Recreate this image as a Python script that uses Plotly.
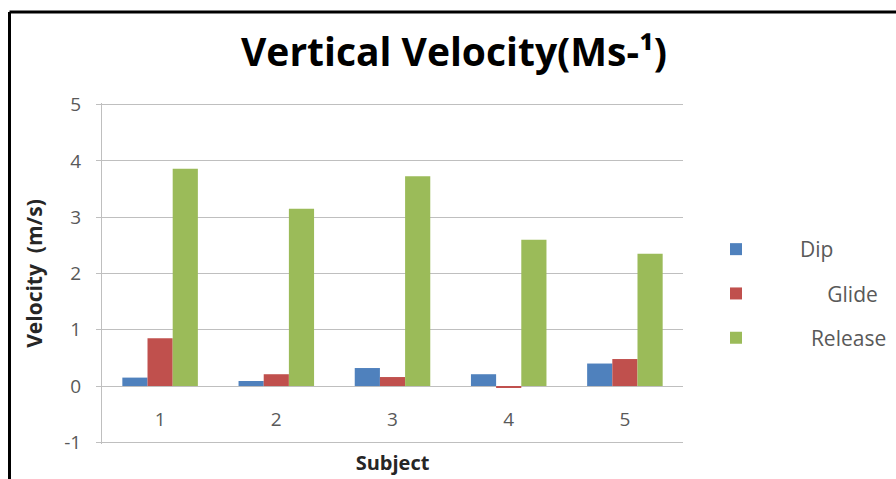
import plotly.graph_objects as go

subjects = ["1", "2", "3", "4", "5"]
dip = [0.15, 0.09, 0.32, 0.21, 0.40]
glide = [0.85, 0.21, 0.16, -0.02, 0.48]
release = [3.86, 3.15, 3.73, 2.60, 2.35]
y_ticks = [-1, 0, 1, 2, 3, 4, 5]
y_ticktext = ["-1", "0", "1", "2", "3", "4", "5"]

W, H = 896, 479
PAD = 0.03
L, R, T, B = 102, 896 - 683, 103, 35
pw, ph = W - L - R, H - T - B

def px(x):
    return (x - L) / pw

def py(y):
    return (H - B - y) / ph

NB = "\u00a0"
fig = go.Figure()
names = ["Dip", NB * 5 + "Glide", NB * 2 + "Release"]
for name, vals, col in [(names[0], dip, "#4F81BD"), (names[1], glide, "#C0504D"), (names[2], release, "#9BBB59")]:
    fig.add_trace(go.Bar(x=subjects, y=vals, name=name, marker_color=col,
                         marker_line_width=0, legendgroup=name))

grid = "#BFBFBF"
tickc = "#595959"
fig.update_layout(
    width=W, height=H,
    margin=dict(l=L, r=R, t=T, b=B, autoexpand=False),
    paper_bgcolor="white", plot_bgcolor="white",
    barmode="group", bargap=0.35, bargroupgap=0,
    font=dict(family="Open Sans", color=tickc),
    title=dict(text="<b>Vertical Velocity(Ms-¹)</b>", x=454 / W, xanchor="center",
               y=1 - 52 / H, yanchor="middle",
               font=dict(size=39, color="black", family="Open Sans")),
    xaxis=dict(showgrid=False, showline=False, anchor="free",
               position=py(385), ticks="", ticklabelstandoff=21,
               tickfont=dict(size=19, color=tickc),
               title=dict(text="<b>Subject</b>", standoff=24,
                          font=dict(size=20, color="#262626")),
               fixedrange=True),
    yaxis=dict(range=[-1 - PAD, 5 + PAD], tickvals=y_ticks, ticktext=y_ticktext,
               showgrid=True, gridcolor=grid,
               zeroline=True, zerolinecolor=grid, zerolinewidth=1,
               showline=True, linecolor=grid, linewidth=1,
               ticks="outside", ticklen=5, tickcolor=grid, ticklabelstandoff=11,
               tickfont=dict(size=19, color=tickc),
               title=dict(text="<b>Velocity" + NB * 2 + "(m/s)</b>", standoff=15,
                          font=dict(size=21, color="#262626"))),
    legend=dict(x=px(672), y=py(229), xanchor="left", yanchor="top",
                traceorder="grouped", tracegroupgap=14,
                font=dict(size=21, color=tickc),
                itemwidth=118, bgcolor="rgba(0,0,0,0)"),
    shapes=[
        dict(type="line", xref="paper", yref="paper", x0=px(9.5), x1=px(W + 5),
             y0=py(12), y1=py(12), line=dict(color="black", width=3)),
        dict(type="line", xref="paper", yref="paper", x0=px(9.5), x1=px(9.5),
             y0=py(12), y1=py(H + 5), line=dict(color="black", width=3)),
    ],
)

fig.write_html("out.html")
